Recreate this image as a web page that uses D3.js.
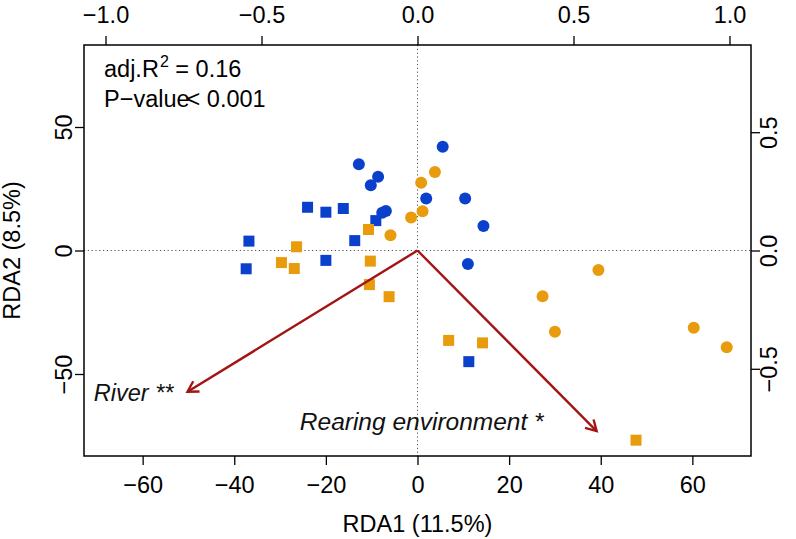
<!DOCTYPE html>
<html>
<head>
<meta charset="utf-8">
<script src="https://cdn.jsdelivr.net/npm/d3@7"></script>
<style>
  html, body { margin: 0; padding: 0; background: #fff; }
  svg { display: block; font-family: "Liberation Sans", Arial, Helvetica, sans-serif; }
</style>
</head>
<body>
<svg id="chart" width="796" height="539"></svg>
<script>
// ---- Data (site scores, RDA1 / RDA2) ----
const blueCircleRDA1 = [-12.8, -8.6, -10.2, -6.9, -7.7, 5.5, 1.9, 10.4, 14.4, 11.0];
const blueCircleRDA2 = [34.9, 29.9, 26.4, 16.0, 15.3, 42.0, 21.1, 21.1, 9.9, -5.5];
const blueSquareRDA1 = [-24.0, -20.0, -16.2, -36.8, -13.7, -37.4, -20.0, -9.1, 11.2];
const blueSquareRDA2 = [17.5, 15.5, 17.0, 3.8, 4.0, -7.4, -4.0, 12.1, -45.0];
const orangeCircleRDA1 = [3.8, 0.8, 1.1, -1.4, -5.9, 39.5, 27.3, 30.0, 60.3, 67.5];
const orangeCircleRDA2 = [31.8, 27.4, 15.9, 13.4, 6.2, -7.9, -18.5, -32.9, -31.3, -39.2];
const orangeSquareRDA1 = [-10.7, -26.4, -29.7, -26.9, -10.3, -10.5, -6.2, 6.8, 14.2, 47.7];
const orangeSquareRDA2 = [8.5, 1.5, -4.9, -7.3, -4.3, -13.8, -18.7, -36.4, -37.4, -76.8];

// ---- Biplot arrows (constraints) ----
const arrowLabels = ["River **", "Rearing environment *"];
const arrowRDA1 = [-50.2, 39.1];
const arrowRDA2 = [-57.2, -73.1];

// ---- Ticks ----
const bottomTicks = [-60, -40, -20, 0, 20, 40, 60];
const leftTicks = [-50, 0, 50];
const topTicks = [-1.0, -0.5, 0.0, 0.5, 1.0];
const rightTicks = [-0.5, 0.0, 0.5];

const xTitle = "RDA1 (11.5%)";
const yTitle = "RDA2 (8.5%)";

// ---- Layout ----
const L = 84, R = 751, T = 45, B = 456;
const BLUE = "#0a40cb", ORANGE = "#e89b0c", RED = "#a31515";
const FS = 23.5;

const svg = d3.select("#chart");
const x = d3.scaleLinear().domain([-72.8, 72.8]).range([L, R]);
const y = d3.scaleLinear().domain([-83.2, 83.2]).range([B, T]);
const x2 = d3.scaleLinear().domain([-1.069, 1.069]).range([L, R]);
const y2 = d3.scaleLinear().domain([-0.8686, 0.8686]).range([B, T]);

const fmtMinus = s => s.replace("-", "\u2212");

// zero lines
svg.append("line").attr("x1", L).attr("x2", R).attr("y1", y(0)).attr("y2", y(0))
  .attr("stroke", "#555").attr("stroke-width", 1).attr("stroke-dasharray", "1.2,2.6");
svg.append("line").attr("x1", x(0)).attr("x2", x(0)).attr("y1", T).attr("y2", B)
  .attr("stroke", "#555").attr("stroke-width", 1).attr("stroke-dasharray", "1.2,2.6");

// axes
const tickLen = 9;
const gB = svg.append("g").attr("transform", `translate(0,${B})`)
  .call(d3.axisBottom(x).tickValues(bottomTicks).tickSize(tickLen).tickPadding(11)
    .tickFormat(d => fmtMinus(d3.format("d")(d))));
const gT = svg.append("g").attr("transform", `translate(0,${T})`)
  .call(d3.axisTop(x2).tickValues(topTicks).tickSize(tickLen).tickPadding(13)
    .tickFormat(d => fmtMinus(d3.format(".1f")(d))));
const gL = svg.append("g").attr("transform", `translate(${L},0)`)
  .call(d3.axisLeft(y).tickValues(leftTicks).tickSize(tickLen)
    .tickFormat(d => fmtMinus(d3.format("d")(d))));
const gR = svg.append("g").attr("transform", `translate(${R},0)`)
  .call(d3.axisRight(y2).tickValues(rightTicks).tickSize(tickLen)
    .tickFormat(d => fmtMinus(d3.format(".1f")(d))));

[gB, gT, gL, gR].forEach(g => {
  g.select(".domain").remove();
  g.selectAll(".tick line").attr("stroke", "#000").attr("stroke-width", 1.3);
  g.selectAll(".tick text").attr("font-size", FS).attr("fill", "#000")
    .attr("font-family", "'Liberation Sans', Arial, sans-serif");
});
// rotate vertical-axis labels (parallel to axis)
gL.selectAll(".tick text")
  .attr("x", null).attr("dy", null).attr("text-anchor", "middle")
  .attr("transform", `translate(${72 - L},0) rotate(-90)`)
  .attr("y", 0);
gR.selectAll(".tick text")
  .attr("x", null).attr("dy", null).attr("text-anchor", "middle")
  .attr("transform", `translate(${777 - R},0) rotate(-90)`)
  .attr("y", 0);

// box
svg.append("rect").attr("x", L).attr("y", T).attr("width", R - L).attr("height", B - T)
  .attr("fill", "none").attr("stroke", "#000").attr("stroke-width", 1.5);

// titles
svg.append("text").attr("x", x(0)).attr("y", 532).attr("text-anchor", "middle")
  .attr("font-size", FS).text(xTitle);
svg.append("text").attr("transform", `translate(20,${y(0)}) rotate(-90)`)
  .attr("text-anchor", "middle").attr("font-size", FS).text(yTitle);

// stats text
const st = svg.append("text").attr("x", 104).attr("y", 77.3).attr("font-size", FS);
st.append("tspan").text("adj.R");
st.append("tspan").attr("font-size", 16).attr("dy", -10.5).attr("dx", 1).text("2");
st.append("tspan").attr("dy", 10.5).text(" = 0.16");
const st2 = svg.append("text").attr("x", 104).attr("y", 106.7).attr("font-size", FS);
st2.append("tspan").text("P\u2212value");
st2.append("tspan").attr("dx", -3).text("< 0.001");

// points
const sq = 11, cr = 6;
function drawSquares(xs, ys, col) {
  svg.append("g").selectAll("rect").data(xs.map((v, i) => [v, ys[i]])).join("rect")
    .attr("x", d => x(d[0]) - sq / 2).attr("y", d => y(d[1]) - sq / 2)
    .attr("width", sq).attr("height", sq).attr("fill", col);
}
function drawCircles(xs, ys, col) {
  svg.append("g").selectAll("circle").data(xs.map((v, i) => [v, ys[i]])).join("circle")
    .attr("cx", d => x(d[0])).attr("cy", d => y(d[1])).attr("r", cr).attr("fill", col);
}
drawSquares(blueSquareRDA1, blueSquareRDA2, BLUE);
drawSquares(orangeSquareRDA1, orangeSquareRDA2, ORANGE);
drawCircles(blueCircleRDA1, blueCircleRDA2, BLUE);
drawCircles(orangeCircleRDA1, orangeCircleRDA2, ORANGE);

// arrows
const headLen = 12, headAng = Math.PI / 6;
const labelOffsets = [[-14, 9], [-53, -1]];
const labelSizes = [23.5, 24.5];
arrowLabels.forEach((lab, i) => {
  const x0 = x(0), y0 = y(0), x1 = x(arrowRDA1[i]), y1 = y(arrowRDA2[i]);
  const g = svg.append("g").attr("stroke", RED).attr("stroke-width", 2.4).attr("fill", "none");
  g.append("line").attr("x1", x0).attr("y1", y0).attr("x2", x1).attr("y2", y1);
  const a = Math.atan2(y1 - y0, x1 - x0);
  const p = d3.path();
  p.moveTo(x1 - headLen * Math.cos(a - headAng), y1 - headLen * Math.sin(a - headAng));
  p.lineTo(x1, y1);
  p.lineTo(x1 - headLen * Math.cos(a + headAng), y1 - headLen * Math.sin(a + headAng));
  g.append("path").attr("d", p.toString()).attr("stroke-linejoin", "miter");
  svg.append("text").attr("x", x1 + labelOffsets[i][0]).attr("y", y1 + labelOffsets[i][1])
    .attr("text-anchor", "end").attr("font-size", labelSizes[i]).attr("font-style", "italic")
    .attr("fill", "#111").text(lab);
});
</script>
</body>
</html>
